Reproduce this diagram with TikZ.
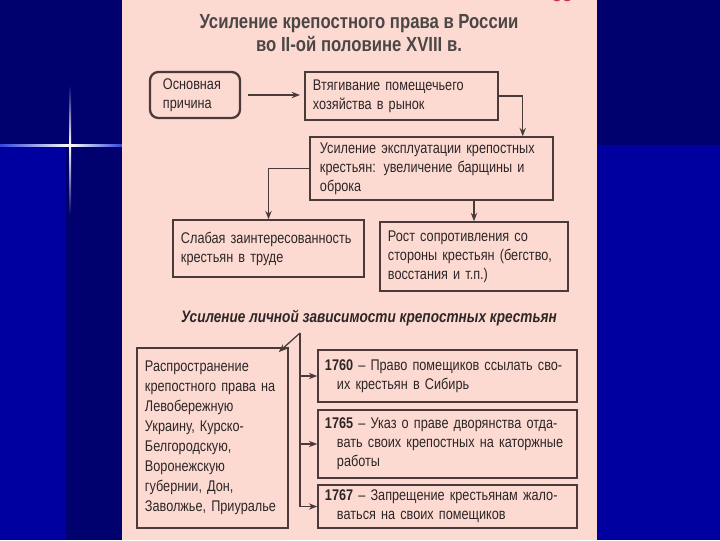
\documentclass[tikz,border=0pt]{standalone}
\usepackage{fontspec}
\setmainfont[FakeStretch=0.82]{Liberation Sans}
\usetikzlibrary{arrows.meta}
\definecolor{bgblue}{RGB}{0, 0, 160}
\definecolor{bgnavy}{RGB}{0, 0, 110}
\definecolor{glow}{RGB}{50, 70, 220}
\definecolor{page}{RGB}{252, 218, 210}
\definecolor{ink}{RGB}{45, 38, 38}
\definecolor{frame}{RGB}{75, 58, 58}
\definecolor{mark}{RGB}{200, 50, 70}

\begin{document}
\begin{tikzpicture}[x=0.025cm, y=-0.025cm,
    box/.style={draw=frame, line width=1pt, text=ink, align=left, inner xsep=0.2cm,
      font=\fontsize{11}{13.5}\selectfont},
    arr/.style={draw=frame, line width=0.9pt, -{Stealth[length=6pt, width=4.5pt]}}]
      \useasboundingbox (0, 0) rectangle (720, 540);
      % background and sparkle
      \fill[bgblue] (0, 0) rectangle (720, 540);
      \fill[bgnavy] (0, 0) rectangle (720, 145);
      \fill[bgnavy] (66, 0) rectangle (122, 540);
      \shade[left color=glow, right color=white] (0, 144.3) rectangle (70, 146);
      \shade[left color=white, right color=glow] (70, 144.3) rectangle (122, 146);
      \shade[top color=bgnavy, bottom color=white] (69.4, 85) rectangle (71, 145);
      \shade[top color=white, bottom color=bgnavy] (69.4, 145) rectangle (71, 215);
      \fill[white] (70.2, 145.2) circle (1.6);
      % page
      \fill[page] (122, 0) rectangle (597, 540);
      \node[text=mark, font=\bfseries\fontsize{16}{16}\selectfont] (pnum) at (562, -6) {33};
      \node[text=ink!85, font=\bfseries\fontsize{14.5}{16}\selectfont, align=center] (title) at (359, 33)
        {Усиление крепостного права в России\\во II-ой половине XVIII в.};
      % upper scheme
      \node[box, rounded corners=6pt, line width=1.6pt, minimum width=2.25cm, minimum height=1.15cm,
        text width=1.6cm, inner xsep=0.325cm] (cause) at (195, 95) {Основная\\причина};
      \node[box, minimum width=4.825cm, minimum height=1.2cm, text width=4.425cm] (market) at (401.5, 96)
        {Втягивание помещечьего\\хозяйства в рынок};
      \node[box, minimum width=6.075cm, minimum height=1.575cm, text width=5.575cm, inner xsep=0.25cm] (exploit) at (431.5, 168.5)
        {Усиление эксплуатации крепостных\\крестьян: увеличение барщины и\\оброка};
      \node[box, minimum width=4.775cm, minimum height=1.425cm, text width=4.375cm] (interest) at (268.5, 248.5)
        {Слабая заинтересованность\\крестьян в труде};
      \node[box, minimum width=4.7cm, minimum height=1.725cm, text width=4.3cm] (resist) at (474, 256.5)
        {Рост сопротивления со\\стороны крестьян (бегство,\\восстания и т.п.)};
      \draw[arr, shorten <=5pt, shorten >=3pt] (cause.east) -- (cause.east -| market.west);
      \draw[arr] (market.east) -| ([xshift=-0.775cm]exploit.north east);
      \draw[arr] (exploit.west) -| (interest.north);
      \draw[arr] (exploit.south -| resist.north) -- (resist.north);
      % lower scheme
      \node[text=ink, font=\bfseries\itshape\fontsize{11.8}{13}\selectfont] (personal) at (369, 318)
        {Усиление личной зависимости крепостных крестьян};
      \node[box, minimum width=3.775cm, minimum height=4.5cm, text width=3.375cm,
        font=\fontsize{11}{14.2}\selectfont] (spread) at (212.5, 438)
        {Распространение\\крепостного права на\\Левобережную\\Украину, Курско-\\Белгородскую,\\Воронежскую\\губернии, Дон,\\Заволжье, Приуралье};
      \node[box, minimum width=6.475cm, minimum height=1.3cm, text width=6.125cm, inner xsep=0.175cm] (y1760) at (447.5, 376)
        {\textbf{1760} -- Право помещиков ссылать сво-\\\hspace*{0.3cm}их крестьян в Сибирь};
      \node[box, minimum width=6.475cm, minimum height=1.7cm, text width=6.125cm, inner xsep=0.175cm] (y1765) at (447.5, 444)
        {\textbf{1765} -- Указ о праве дворянства отда-\\\hspace*{0.3cm}вать своих крепостных на каторжные\\\hspace*{0.3cm}работы};
      \node[box, minimum width=6.475cm, minimum height=1.075cm, text width=6.125cm, inner xsep=0.175cm] (y1767) at (447.5, 506.5)
        {\textbf{1767} -- Запрещение крестьянам жало-\\\hspace*{0.3cm}ваться на своих помещиков};
      \coordinate (fork) at (300, 333);
      \draw[arr] (fork) -- ([xshift=-0.25cm, yshift=-0.12cm]spread.north east);
      \draw[arr] (fork) |- (y1767.west);
      \draw[arr] (fork |- y1760.west) -- (y1760.west);
      \draw[arr] (fork |- y1765.west) -- (y1765.west);
    \end{tikzpicture}
\end{document}
